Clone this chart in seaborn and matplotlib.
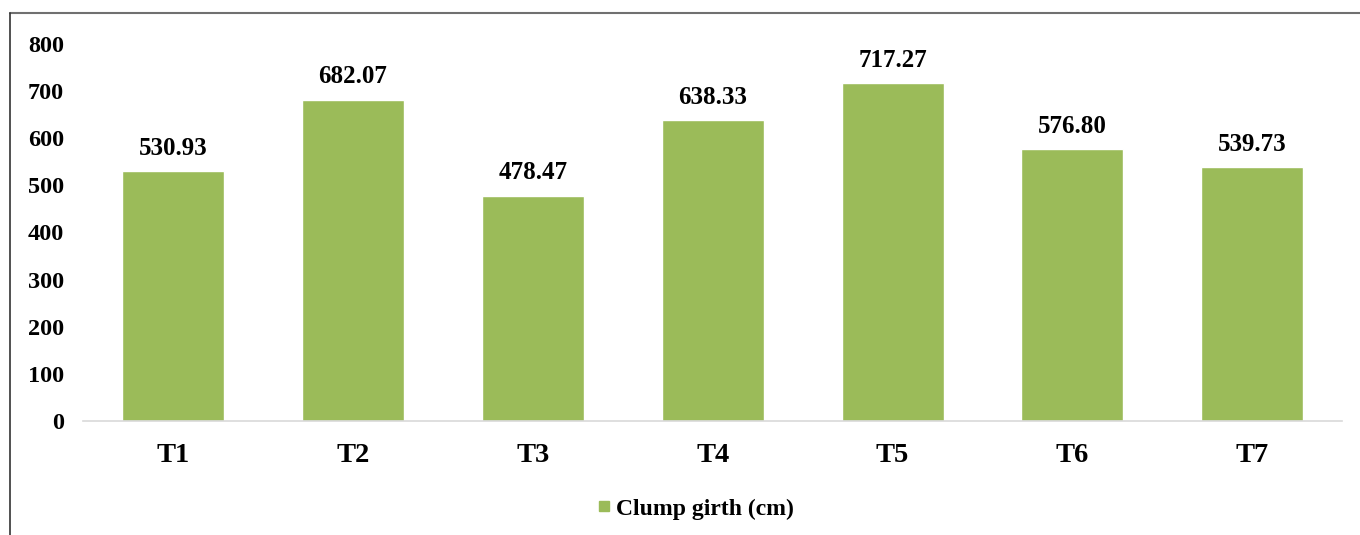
import matplotlib
matplotlib.use("Agg")
import matplotlib.pyplot as plt
from matplotlib.lines import Line2D
import seaborn as sns
import pandas as pd

treatments = ["T1", "T2", "T3", "T4", "T5", "T6", "T7"]
clump_girth = [530.93, 682.07, 478.47, 638.33, 717.27, 576.80, 539.73]
series_name = "Clump girth (cm)"
y_ticks = [0, 100, 200, 300, 400, 500, 600, 700, 800]

sns.set_theme(style="white")
plt.rcParams["font.family"] = ["Liberation Serif", "DejaVu Serif"]
plt.rcParams["font.weight"] = "bold"
plt.rcParams["text.color"] = "black"
plt.rcParams["xtick.color"] = "black"
plt.rcParams["ytick.color"] = "black"

df = pd.DataFrame({"Treatment": treatments, "Girth": clump_girth, "Series": series_name})

fig = plt.figure(figsize=(13.6, 5.35), dpi=100)
ax = fig.add_axes([0.061, 0.2131, 0.926, 0.7047])

bar_color = "#9BBB59"
sns.barplot(data=df, x="Treatment", y="Girth", hue="Series", palette=[bar_color],
            width=0.567, ax=ax, legend=False, saturation=1)

ax.set_ylim(0, 800)
ax.set_yticks(y_ticks)
ax.set_yticklabels([str(v) for v in y_ticks], fontsize=17.5, fontweight="bold")
ax.set_xticklabels(treatments, fontsize=20.5, fontweight="bold")
ax.set_xlabel("")
ax.set_ylabel("")
ax.tick_params(axis="y", length=0, pad=13.5, colors="black")
ax.tick_params(axis="x", length=0, pad=15.5, colors="black")
for s in ["top", "right", "left"]:
    ax.spines[s].set_visible(False)
ax.spines["bottom"].set_color("#D9D9D9")
ax.spines["bottom"].set_linewidth(1.2)

for container in ax.containers:
    ax.bar_label(container, labels=[f"{v:.2f}" for v in clump_girth],
                 padding=8, fontsize=18, fontweight="bold", color="black")

handle = Line2D([], [], marker="s", linestyle="", color=bar_color, markersize=7.5)
fig.legend([handle], [series_name], loc="center", bbox_to_anchor=(0.511, 0.049),
           frameon=False, handletextpad=0.15, handlelength=0.7,
           prop={"weight": "bold", "size": 17}, labelcolor="black")

# chart area frame
fig.add_artist(Line2D([10 / 1360, 1.0], [1 - 13 / 535, 1 - 13 / 535],
                      transform=fig.transFigure, color="#707070", linewidth=1.5))
fig.add_artist(Line2D([10 / 1360, 10 / 1360], [0.0, 1 - 13 / 535],
                      transform=fig.transFigure, color="#333333", linewidth=1.2))

fig.savefig("out.png", dpi=100, facecolor="white")
